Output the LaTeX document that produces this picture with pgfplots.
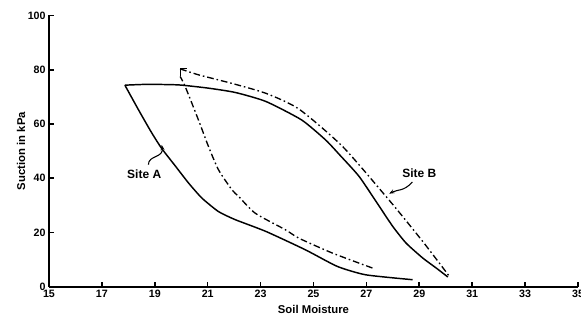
\documentclass[border=0pt]{standalone}
\usepackage{pgfplots}
\pgfplotsset{compat=1.18}
\usepackage{fontspec}
\setmainfont{Liberation Sans}
\usetikzlibrary{calc,arrows.meta}
\begin{document}
\begin{tikzpicture}[x=1pt,y=1pt]
\begin{axis}[name=ax,
  scale only axis, width=397pt, height=203.6pt,
  xmin=15, xmax=35, ymin=0, ymax=100,
  xtick={15,17,...,35}, ytick={0,20,...,100},
  axis x line*=bottom, axis y line*=left,
  axis line style={line width=1.5pt,-},
  tick style={line width=1.2pt,black},
  tick align=inside, major tick length=3.5pt,
  ticklabel style={font=\fontsize{8}{9}\selectfont\bfseries},
  /pgf/number format/assume math mode=true,
  xticklabel style={yshift=1pt},
  yticklabel style={xshift=1pt},
  xlabel={\fontsize{8.5}{9}\selectfont\bfseries Soil Moisture},
  ylabel={\fontsize{8.5}{9}\selectfont\bfseries Suction in kPa},
  xlabel style={yshift=1pt},
  ylabel style={yshift=-5pt},
  clip=false,
]
% Site A (solid)
\addplot[black, line width=1.1pt, smooth, tension=0.35] coordinates {
 (28.75,2.6) (26.98,4.4) (25.9,7.5) (24.7,13.6) (23.2,20.4) (22.05,24.7)
 (21.41,27.7) (20.78,32.7) (20.28,38.2) (19.77,44.6) (19.26,51.0)
 (18.88,56.8) (18.38,65.3) (17.87,74.3)
};
\addplot[black, line width=1.1pt, smooth, tension=0.35] coordinates {
 (17.87,74.3) (18.7,74.6) (19.9,74.4) (21.03,73.2) (22.05,71.6) (23.2,68.3)
 (24.55,61.5) (25.46,54.1) (26.0,48.5) (26.73,40.6) (27.49,29.6) (28.0,22.2)
 (28.5,16.1) (29.13,10.6) (29.64,6.9) (30.08,3.6)
};
% Site B (dash-dot)
\addplot[black, line width=1.0pt, smooth, tension=0.4,
  dash pattern=on 5pt off 2.2pt on 1.2pt off 2.2pt] coordinates {
 (27.23,6.9) (25.72,12.4) (24.45,17.9) (23.94,21) (22.8,27.1) (22.17,33.3)
 (21.92,35.7) (21.41,43.1) (21.03,51.7) (20.65,61.5) (20.15,73.8) (19.96,77.5)
};
\addplot[black, line width=1.0pt, smooth, tension=0.4,
  dash pattern=on 5pt off 2.2pt on 1.2pt off 2.2pt] coordinates {
 (19.96,80.3) (20.66,78.1) (21.9,75) (23.2,71.3) (24.45,65.5) (26.1,51.7)
 (27.74,33.3) (28.37,25.9) (29.13,16.7) (29.76,8.7) (30.14,3.8)
};
\draw[black, line width=0.9pt] (axis cs:19.96,77.5) -- (axis cs:19.96,80.3) -- (axis cs:20.2,80.3);
% annotations
\node[font=\fontsize{9}{10}\selectfont\bfseries] at (axis cs:18.6,41.5) {Site A};
\draw[line width=0.8pt,-{Stealth[length=4pt,width=3pt]}] (axis cs:18.76,45.0) .. controls (axis cs:18.75,48.5) and (axis cs:19.35,47.5) .. (axis cs:19.26,52.3);
\node[font=\fontsize{9}{10}\selectfont\bfseries] at (axis cs:29.0,42.0) {Site B};
\draw[line width=0.8pt,-{Stealth[length=4pt,width=3pt]}] (axis cs:28.74,38.6) .. controls (axis cs:28.4,35.0) and (axis cs:28.2,36.0) .. (axis cs:27.86,34.3);
\end{axis}
\pgfresetboundingbox
\path[use as bounding box] ($(ax.south west)+(-36.75pt,-24.75pt)$) rectangle ($(ax.north east)+(2.25pt,11.6pt)$);
\end{tikzpicture}
\end{document}
